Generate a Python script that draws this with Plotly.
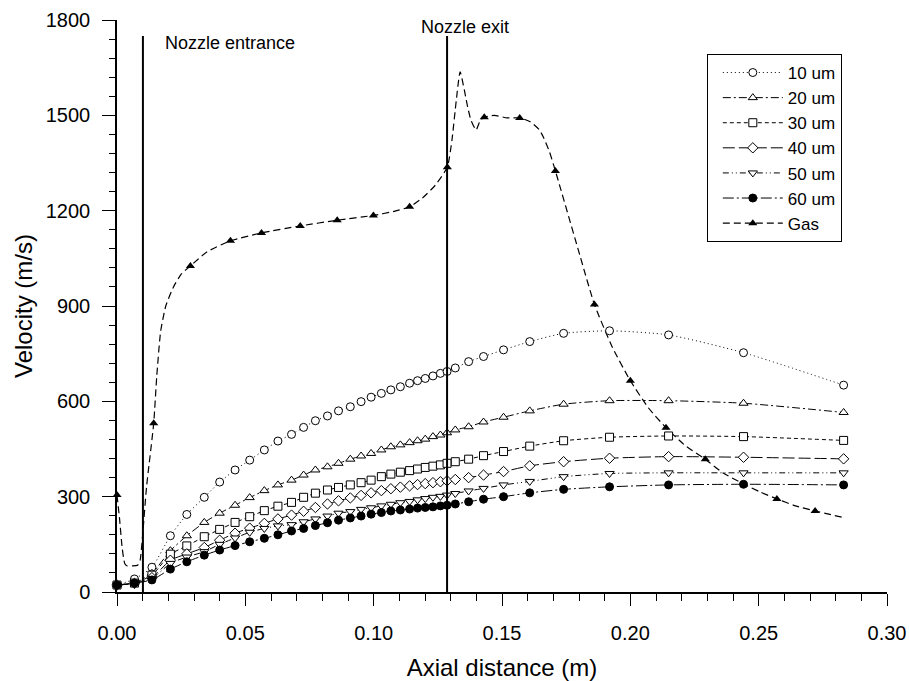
import plotly.graph_objects as go

# Axial positions of particle data points (m)
x_pts = [0, 0.0068, 0.0136, 0.0208, 0.0272, 0.034, 0.04, 0.046, 0.0517, 0.0574,
         0.0627, 0.068, 0.0727, 0.0773, 0.082, 0.0863, 0.0909, 0.0951, 0.099, 0.103,
         0.1067, 0.1104, 0.114, 0.1171, 0.1201, 0.1231, 0.126, 0.1286, 0.1318, 0.137,
         0.1428, 0.1506, 0.1608, 0.174, 0.1919, 0.2149, 0.2441, 0.2831]

v10 = [22, 41, 78, 177, 244, 298, 346, 384, 415, 447,
       475, 496, 518, 539, 554, 570, 583, 599, 613, 625,
       636, 646, 657, 665, 672, 680, 688, 694, 705, 725,
       741, 762, 788, 814, 822, 809, 753, 651]
v20 = [22, 30, 59, 130, 177, 219, 248, 273, 297, 319,
       337, 352, 368, 384, 394, 405, 418, 428, 436, 447,
       457, 463, 470, 476, 481, 489, 494, 501, 510, 520,
       535, 550, 570, 591, 602, 602, 594, 565]
v30 = [22, 28, 53, 119, 145, 174, 197, 219, 237, 256,
       270, 282, 298, 311, 321, 329, 337, 344, 352, 363,
       371, 377, 382, 387, 392, 396, 400, 405, 410, 418,
       429, 442, 459, 476, 487, 491, 489, 477]
v40 = [22, 27, 45, 100, 120, 140, 163, 185, 201, 216,
       230, 242, 254, 266, 277, 287, 296, 304, 312, 319,
       325, 330, 334, 338, 341, 344, 347, 350, 354, 360,
       368, 379, 397, 410, 421, 426, 424, 419]
v50 = [22, 26, 42, 90, 110, 127, 150, 170, 188, 200,
       208, 212, 221, 230, 239, 248, 253, 260, 265, 271,
       276, 281, 285, 290, 294, 298, 301, 305, 310, 318,
       326, 337, 348, 363, 373, 375, 375, 375]
v60 = [22, 28, 38, 72, 95, 116, 132, 146, 158, 169,
       180, 192, 200, 209, 218, 226, 233, 239, 245, 250,
       255, 258, 261, 264, 266, 268, 271, 273, 277, 284,
       292, 300, 312, 323, 331, 337, 339, 337]

# Gas velocity profile (dense line)
gas_x = [0, 0.001, 0.002, 0.003, 0.004, 0.006, 0.008, 0.009, 0.0100, 0.0115,
         0.0143, 0.0155, 0.017, 0.019, 0.022, 0.025, 0.0286, 0.035, 0.0442, 0.0563,
         0.0714, 0.0858, 0.0999, 0.108, 0.114, 0.119, 0.124, 0.1287, 0.1305, 0.1322,
         0.1337, 0.1366, 0.1379, 0.1399, 0.1416, 0.1431, 0.147, 0.152, 0.1569, 0.161,
         0.1645, 0.1662, 0.1685, 0.1708, 0.1805, 0.186, 0.193, 0.2, 0.207, 0.2139,
         0.2215, 0.2292, 0.236, 0.2441, 0.2505, 0.2571, 0.264, 0.272, 0.2831]
gas_v = [305, 230, 140, 90, 82, 82, 84, 100, 180, 330,
         531, 680, 820, 900, 960, 1000, 1026, 1070, 1105, 1130,
         1152, 1170, 1185, 1198, 1212, 1240, 1280, 1337, 1422, 1548,
         1637, 1527, 1485, 1454, 1485, 1494, 1500, 1492, 1492, 1480,
         1455, 1430, 1385, 1325, 1055, 905, 770, 665, 580, 517,
         460, 418, 375, 340, 315, 293, 272, 255, 234]
# Gas marker positions
gas_mx = [0, 0.0143, 0.0286, 0.0442, 0.0563, 0.0714, 0.0858, 0.0999, 0.114, 0.1287,
          0.1431, 0.1569, 0.1708, 0.186, 0.2, 0.2139, 0.2292, 0.2571, 0.272]
gas_mv = [305, 531, 1026, 1105, 1130, 1152, 1170, 1185, 1212, 1337,
          1494, 1492, 1325, 905, 665, 517, 418, 293, 255]

FONT = "Arial, Liberation Sans, sans-serif"

series = [
    ("10 um", v10, "circle", "white", "1px,3px"),
    ("20 um", v20, "triangle-up", "white", "8px,3px,2px,3px"),
    ("30 um", v30, "square", "white", "4px,3px"),
    ("40 um", v40, "diamond", "white", "12px,4px"),
    ("50 um", v50, "triangle-down", "white", "6px,3px,1px,3px,1px,3px"),
    ("60 um", v60, "circle", "black", "11px,3px,2px,3px"),
]

fig = go.Figure()

# gas line and markers (drawn first, under particle traces)
fig.add_trace(go.Scatter(x=gas_x, y=gas_v, mode="lines", showlegend=False,
                         line=dict(color="black", width=1.2, dash="7px,4px",
                                   shape="spline", smoothing=0.5),
                         hoverinfo="skip", cliponaxis=False))
fig.add_trace(go.Scatter(x=gas_mx, y=gas_mv, mode="markers", showlegend=False,
                         marker=dict(symbol="triangle-up", size=8, color="black"),
                         cliponaxis=False))

for name, v, sym, fill, dash in series:
    fig.add_trace(go.Scatter(
        x=x_pts, y=v, mode="lines+markers", name=name,
        line=dict(color="black", width=1, dash=dash, shape="spline", smoothing=0.6),
        marker=dict(symbol=sym, size=8, color=fill, line=dict(color="black", width=1)),
        cliponaxis=False))

# legend entry for gas
fig.add_trace(go.Scatter(x=[None], y=[None], mode="lines+markers", name="Gas",
                         line=dict(color="black", width=1.2, dash="7px,4px"),
                         marker=dict(symbol="triangle-up", size=8, color="black")))

# nozzle lines
for xv in (0.0101, 0.1286):
    fig.add_shape(type="line", x0=xv, x1=xv, y0=0, y1=1750, xref="x", yref="y",
                  line=dict(color="black", width=2), layer="above")

fig.add_annotation(x=0.018, y=1728, xref="x", yref="y", text="Nozzle entrance",
                   showarrow=False, xanchor="left", yanchor="middle",
                   font=dict(family=FONT, size=18, color="black"))
fig.add_annotation(x=0.1357, y=1778, xref="x", yref="y", text="Nozzle exit",
                   showarrow=False, xanchor="center", yanchor="middle",
                   font=dict(family=FONT, size=18, color="black"))

fig.update_layout(
    width=909, height=681,
    margin=dict(l=117, r=22, t=20, b=89, autoexpand=False),
    paper_bgcolor="white", plot_bgcolor="white",
    font=dict(family=FONT, color="black"),
    showlegend=True,
    legend=dict(x=0.766, y=0.9406, xanchor="left", yanchor="top",
                bgcolor="white", bordercolor="black", borderwidth=1,
                font=dict(family=FONT, size=17, color="black"),
                itemwidth=60, indentation=10, tracegroupgap=0),
    xaxis=dict(range=[0, 0.3], tickmode="linear", tick0=0, dtick=0.05, tickformat=".2f",
               showline=True, linecolor="black", linewidth=1.5, mirror=False,
               ticks="outside", ticklen=12, tickwidth=1, tickcolor="black",
               minor=dict(dtick=0.01, ticks="outside", ticklen=7, tickcolor="black", showgrid=False),
               showgrid=False, zeroline=False, ticklabelstandoff=10, automargin=False,
               tickfont=dict(family=FONT, size=20, color="black"),
               title=dict(text="Axial distance (m)", standoff=20,
                          font=dict(family=FONT, size=24, color="black"))),
    yaxis=dict(range=[0, 1800], tickmode="linear", tick0=0, dtick=300,
               showline=True, linecolor="black", linewidth=1.5, mirror=False,
               ticks="outside", ticklen=13, tickwidth=1, tickcolor="black",
               minor=dict(dtick=60, ticks="outside", ticklen=6, tickcolor="black", showgrid=False),
               showgrid=False, zeroline=False, ticklabelstandoff=8, automargin=False,
               tickfont=dict(family=FONT, size=20, color="black"),
               title=dict(text="Velocity (m/s)", standoff=6,
                          font=dict(family=FONT, size=24, color="black"))),
)

fig.write_html("out.html")
